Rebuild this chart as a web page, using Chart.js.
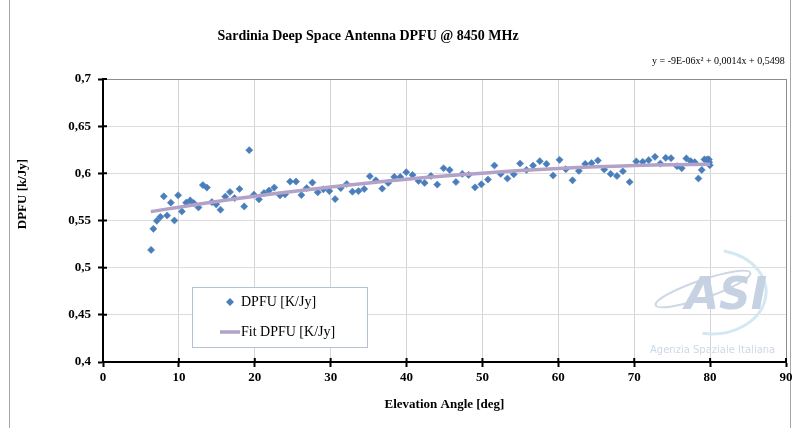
<!DOCTYPE html>
<html>
<head>
<meta charset="utf-8">
<title>Sardinia Deep Space Antenna DPFU</title>
<script src="https://cdn.jsdelivr.net/npm/chart.js@4/dist/chart.umd.min.js"></script>
<style>
  body { margin: 0; background: #fff; }
  #wrap { width: 800px; height: 428px; }
</style>
</head>
<body>
<div id="wrap"><canvas id="dpfuChart" width="800" height="428"></canvas></div>
<script>
// measured DPFU vs elevation
const elevation = [
  6.34, 6.64, 7.09, 7.56, 8.01, 8.45, 8.94, 9.41, 9.90, 10.39,
  10.96, 11.49, 11.97, 12.58, 13.16, 13.69, 14.35, 14.92, 15.48, 16.11,
  16.73, 17.33, 17.99, 18.61, 19.27, 19.89, 20.55, 21.21, 21.87, 22.57,
  23.33, 23.99, 24.65, 25.44, 26.14, 26.84, 27.59, 28.29, 29.04, 29.83,
  30.59, 31.33, 32.12, 32.87, 33.66, 34.42, 35.16, 35.95, 36.79, 37.58,
  38.38, 39.17, 39.96, 40.79, 41.58, 42.38, 43.21, 44.05, 44.88, 45.68,
  46.51, 47.35, 48.18, 49.02, 49.86, 50.73, 51.58, 52.41, 53.29, 54.13,
  54.96, 55.80, 56.67, 57.56, 58.44, 59.31, 60.16, 60.99, 61.87, 62.71,
  63.54, 64.38, 65.21, 66.05, 66.89, 67.72, 68.51, 69.40, 70.27, 71.12,
  71.91, 72.74, 73.44, 74.15, 74.85, 75.64, 76.26, 76.87, 77.45, 77.98,
  78.46, 78.90, 79.25, 79.60, 79.83, 79.96, 79.87
];
const dpfu = [
  0.5188, 0.5412, 0.5497, 0.5539, 0.5756, 0.5553, 0.5689, 0.5500, 0.5767, 0.5596,
  0.5689, 0.5713, 0.5684, 0.5639, 0.5876, 0.5849, 0.5695, 0.5671, 0.5614, 0.5753,
  0.5802, 0.5738, 0.5834, 0.5649, 0.6246, 0.5774, 0.5724, 0.5791, 0.5817, 0.5849,
  0.5767, 0.5777, 0.5913, 0.5913, 0.5770, 0.5844, 0.5902, 0.5799, 0.5831, 0.5812,
  0.5727, 0.5844, 0.5887, 0.5806, 0.5812, 0.5834, 0.5969, 0.5926, 0.5838, 0.5898,
  0.5962, 0.5962, 0.6012, 0.5983, 0.5919, 0.5898, 0.5972, 0.5881, 0.6054, 0.6036,
  0.5908, 0.5994, 0.5983, 0.5852, 0.5884, 0.5934, 0.6083, 0.5994, 0.5945, 0.5990,
  0.6104, 0.6036, 0.6083, 0.6129, 0.6100, 0.5977, 0.6143, 0.6044, 0.5926, 0.6026,
  0.6100, 0.6108, 0.6136, 0.6041, 0.5994, 0.5972, 0.6022, 0.5908, 0.6126, 0.6122,
  0.6140, 0.6175, 0.6104, 0.6164, 0.6161, 0.6076, 0.6054, 0.6158, 0.6129, 0.6118,
  0.5945, 0.6036, 0.6147, 0.6147, 0.6147, 0.6086, 0.6118
];

// polynomial trend line
const fitElevation = [6.3, 10, 15, 20, 25, 30, 35, 40, 45, 50, 55, 60, 65, 70, 75, 80];
const fitDpfu = [0.5594, 0.5641, 0.5701, 0.5757, 0.5808, 0.5855, 0.5898, 0.5937,
                 0.5972, 0.6002, 0.6029, 0.6051, 0.6069, 0.6082, 0.6092, 0.6097];

const chartTitle = 'Sardinia Deep Space Antenna DPFU @ 8450 MHz';
const fitEquation = 'y = -9E-06x\u00b2 + 0,0014x + 0,5498';
const xTitle = 'Elevation Angle [deg]';
const yTitle = 'DPFU [k/Jy]';
const seriesNames = ['DPFU [K/Jy]', 'Fit DPFU [K/Jy]'];

const pointColor = '#4a7ebb';
const fitColor = '#b3a2c7';
const serif = '"Liberation Serif", "Times New Roman", serif';

const fmt = v => String(Number(v.toFixed(2))).replace('.', ',');

const decorations = {
  id: 'decorations',
  beforeDraw(chart) {
    const ctx = chart.ctx;
    ctx.save();
    ctx.fillStyle = '#fff';
    ctx.fillRect(0, 0, chart.width, chart.height);
    ctx.strokeStyle = '#a6a6a6';
    ctx.lineWidth = 1;
    ctx.beginPath();
    ctx.moveTo(9.5, 0); ctx.lineTo(9.5, chart.height);
    ctx.moveTo(790.5, 0); ctx.lineTo(790.5, chart.height);
    ctx.stroke();
    ctx.restore();
  },
  beforeDatasetsDraw(chart) {
    // agency watermark
    const ctx = chart.ctx;
    ctx.save();
    ctx.strokeStyle = '#d3e8f3';
    ctx.lineWidth = 3;
    ctx.beginPath();
    ctx.ellipse(712, 292, 54, 42, 0, -1.35, 1.75);
    ctx.stroke();
    ctx.strokeStyle = '#cdd7e6';
    ctx.lineWidth = 2;
    ctx.beginPath();
    ctx.ellipse(703, 289, 50, 9, -0.33, 0, Math.PI * 2);
    ctx.stroke();
    ctx.fillStyle = '#c6d1e2';
    ctx.font = 'italic bold 44px "DejaVu Sans", sans-serif';
    ctx.textBaseline = 'alphabetic';
    ctx.fillText('ASI', 685, 309);
    ctx.fillStyle = '#ccd8e8';
    ctx.font = '10px "DejaVu Sans", sans-serif';
    ctx.textAlign = 'left';
    ctx.fillText('Agenzia Spaziale Italiana', 650, 353);
    ctx.restore();
  },
  afterDatasetsDraw(chart) {
    const ctx = chart.ctx;
    const x = chart.scales.x, y = chart.scales.y;
    const area = chart.chartArea;
    ctx.save();

    // inner half of the crossing tick marks
    ctx.strokeStyle = '#000';
    ctx.lineWidth = 2;
    ctx.beginPath();
    y.ticks.forEach(t => {
      const py = y.getPixelForValue(t.value);
      ctx.moveTo(area.left, py); ctx.lineTo(area.left + 4, py);
    });
    x.ticks.forEach(t => {
      const px = x.getPixelForValue(t.value);
      ctx.moveTo(px, area.bottom); ctx.lineTo(px, area.bottom - 4);
    });
    ctx.stroke();

    // legend box
    ctx.fillStyle = '#fff';
    ctx.fillRect(192, 287, 175, 60);
    ctx.strokeStyle = '#b4c2d8';
    ctx.lineWidth = 1;
    ctx.strokeRect(192.5, 287.5, 175, 60);
    ctx.fillStyle = pointColor;
    ctx.beginPath();
    ctx.moveTo(230, 298); ctx.lineTo(234, 302); ctx.lineTo(230, 306); ctx.lineTo(226, 302);
    ctx.closePath();
    ctx.fill();
    ctx.strokeStyle = fitColor;
    ctx.lineWidth = 3.5;
    ctx.beginPath();
    ctx.moveTo(220, 332); ctx.lineTo(240, 332);
    ctx.stroke();
    ctx.fillStyle = '#000';
    ctx.font = '14px ' + serif;
    ctx.textBaseline = 'middle';
    ctx.textAlign = 'left';
    ctx.fillText(seriesNames[0], 241, 302);
    ctx.fillText(seriesNames[1], 241, 332);

    // title, equation, axis titles
    ctx.font = 'bold 14px ' + serif;
    ctx.textAlign = 'center';
    ctx.fillText(chartTitle, 368, 36);
    ctx.font = '10px ' + serif;
    ctx.textAlign = 'left';
    ctx.fillText(fitEquation, 652, 61);
    ctx.font = 'bold 13px ' + serif;
    ctx.textAlign = 'center';
    ctx.fillText(xTitle, (area.left + area.right) / 2, 405);
    ctx.translate(23, 194);
    ctx.rotate(-Math.PI / 2);
    ctx.fillText(yTitle, 0, 0);
    ctx.restore();
  }
};

const config = {
  type: 'scatter',
  data: {
    datasets: [
      {
        label: seriesNames[1],
        type: 'line',
        data: fitElevation.map((e, i) => ({ x: e, y: fitDpfu[i] })),
        borderColor: fitColor,
        borderWidth: 3.5,
        pointRadius: 0,
        tension: 0.4,
        fill: false,
        order: 0
      },
      {
        label: seriesNames[0],
        data: elevation.map((e, i) => ({ x: e, y: dpfu[i] })),
        pointStyle: 'rectRot',
        pointRadius: 3.6,
        backgroundColor: pointColor,
        borderColor: pointColor,
        borderWidth: 0.5,
        order: 1
      }
    ]
  },
  options: {
    responsive: false,
    animation: false,
    layout: { padding: { top: 79, right: 14, left: 0, bottom: 0 } },
    plugins: {
      legend: { display: false },
      tooltip: { enabled: false }
    },
    scales: {
      x: {
        type: 'linear',
        min: 0,
        max: 90,
        ticks: {
          stepSize: 10,
          padding: 3,
          color: '#000',
          font: { family: serif, size: 13, weight: 'bold' }
        },
        grid: {
          color: c => c.tick.value === 90 ? '#8c8c8c' : '#d4d4d4',
          tickColor: '#000',
          tickLength: 5,
          tickWidth: 2
        },
        border: { color: '#000', width: 2 },
        afterFit(s) { s.height = 66; }
      },
      y: {
        min: 0.4,
        max: 0.7,
        ticks: {
          stepSize: 0.05,
          padding: 7,
          color: '#000',
          font: { family: serif, size: 13, weight: 'bold' },
          callback: v => fmt(v)
        },
        grid: {
          color: c => Math.abs(c.tick.value - 0.7) < 1e-9 ? '#8c8c8c' : '#dcdcdc',
          tickColor: '#000',
          tickLength: 5,
          tickWidth: 2
        },
        border: { color: '#000', width: 2 },
        afterFit(s) { s.width = 103; }
      }
    }
  },
  plugins: [decorations]
};

const myChart = new Chart(document.getElementById('dpfuChart'), config);
</script>
</body>
</html>
